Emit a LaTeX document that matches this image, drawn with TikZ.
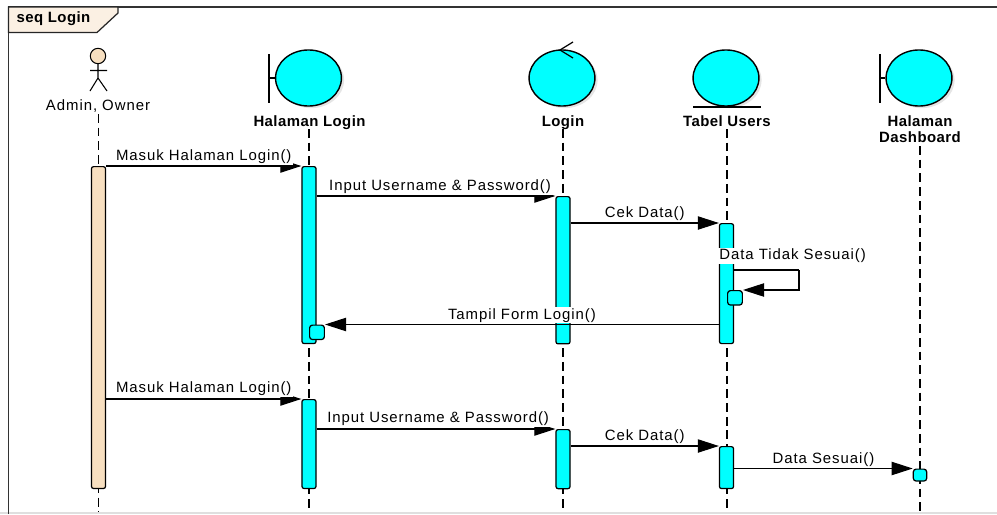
\documentclass[tikz,border=0pt]{standalone}
\usepackage{fontspec}
\setmainfont[LetterSpace=6.3]{Liberation Sans}
\newfontface\namefont[LetterSpace=3]{Liberation Sans Bold}
\usetikzlibrary{arrows.meta,shadows,shapes.geometric}

\definecolor{barcyan}{RGB}{0,255,255}
\definecolor{barwheat}{RGB}{247,223,192}
\definecolor{framecream}{RGB}{251,240,227}

\tikzset{
	obj/.style={ellipse,draw=black,fill=barcyan,line width=0.8pt,minimum width=37.5pt,minimum height=31.9pt,inner sep=0pt,drop shadow={opacity=0.2,shadow xshift=1.5pt,shadow yshift=-1.2pt}},
	objname/.style={font=\fontsize{8.5}{9.2}\selectfont\namefont,align=center,inner sep=0pt},
	life/.style={line width=0.7pt,dash pattern=on 5pt off 2.8pt},
	bar/.style={draw=black,fill=barcyan,rounded corners=1.2pt,line width=0.7pt,inner sep=0pt,minimum width=8pt,anchor=north},
	selfbar/.style={draw=black,fill=barcyan,rounded corners=1.6pt,line width=0.7pt,inner sep=0pt,minimum width=8.4pt,minimum height=8.2pt,anchor=north west},
	msg/.style={line width=0.6pt,-{Triangle[length=12pt,width=7.6pt]}},
	msgname/.style={font=\fontsize{8.5}{10}\selectfont,fill=white,inner sep=0.6pt,above=0.4pt},
}

\begin{document}
\begin{tikzpicture}[x=0.02cm,y=-0.02cm]
	\useasboundingbox (0,0) rectangle (997,514);
	\fill[white] (0,0) rectangle (997,514);
	\draw[gray!25,line width=0.6pt] (0,513) -- (997,513);

	% frame
	\draw[black!80,line width=1pt] (8.5,514) -- (8.5,7) -- (997,7);
	\draw[black!85,fill=framecream,line width=0.7pt] (8.5,7) -- (118,7) -- (118,13) -- (97,32.5) -- (8.5,32.5) -- cycle;
	\node[objname] (frameName) at (53.5,19) {seq Login};

	% actor
	\draw[black,fill=barwheat,line width=0.6pt] (98,56) circle (7.7);
	\draw[black,line width=0.6pt] (98,64) -- (98,78) (90,70.5) -- (107,70.5) (90,91) -- (98,78) -- (107,91);
	\node[font=\fontsize{8.5}{10}\selectfont,inner sep=0pt,anchor=base] (adminName) at (98,110) {Admin, Owner};

	% objects
	\node[obj] (halLogin) at (308.5,78) {};
	\node[obj] (login) at (562,78) {};
	\node[obj] (tabel) at (726,78) {};
	\node[obj] (halDash) at (919,78) {};
	\draw[black,line width=0.7pt] (269,54) -- (269,103) (269,78) -- (halLogin.west);
	\draw[black,line width=0.7pt] (880,54) -- (880,103) (880,78) -- (halDash.west);
	\draw[black,line width=0.7pt] (573,42) -- (560,50) -- (573,58);
	\draw[black,line width=0.7pt] (693,107) -- (761,107);
	\node[objname,anchor=base] (halLoginName) at (309.5,126) {Halaman Login};
	\node[objname,anchor=base] (loginName) at (563,126) {Login};
	\node[objname,anchor=base] (tabelName) at (727,126) {Tabel Users};
	\node[objname,anchor=north] (halDashName) at (920,115.5) {Halaman\\Dashboard};

	% lifelines
	\draw[life] (98.5,114) -- (98.5,512);
	\draw[life] (309,129) -- (309,512);
	\draw[life] (563,129) -- (563,512);
	\draw[life] (727,129) -- (727,512);
	\draw[life] (920,146) -- (920,512);

	% activations
	\node[bar,fill=barwheat,minimum height=183.2pt] (adminBar) at (98.5,166) {};
	\node[bar,minimum height=100.7pt] (halBarA) at (309,166) {};
	\node[bar,minimum height=83.8pt] (logBarA) at (563,196) {};
	\node[bar,minimum height=68.3pt] (tabBarA) at (726.5,223) {};
	\node[bar,minimum height=50.6pt] (halBarB) at (309,399) {};
	\node[bar,minimum height=33.6pt] (logBarB) at (563,429) {};
	\node[bar,minimum height=23.9pt] (tabBarB) at (726.5,446) {};
	\node[selfbar] (selfTab) at (727,290) {};
	\node[selfbar] (selfHal) at (309,324.5) {};
	\node[selfbar,minimum width=7.6pt,minimum height=6.8pt,anchor=north] (selfDash) at (920,468.5) {};

	% messages
	\draw[msg] (adminBar.north east) -- node[msgname] {Masuk Halaman Login()} (halBarA.north west);
	\draw[msg] (halBarA.east |- logBarA.north) -- node[msgname,xshift=2.3pt] {Input Username \& Password()} (logBarA.north west);
	\draw[msg] (logBarA.east |- tabBarA.north) -- node[msgname] {Cek Data()} (tabBarA.north west);
	\draw[msg] (tabBarA.west |- selfHal.north) -- node[msgname] {Tampil Form Login()} (selfHal.north east);
	\coordinate (selfOut) at (799,270);
	\draw[line width=0.6pt] (tabBarA.east |- selfOut) -- (selfOut);
	\draw[msg] (selfOut) -- (selfOut |- selfTab.north) -- (selfTab.north east);
	\node[font=\fontsize{8.5}{10}\selectfont,fill=white,inner sep=0.6pt,anchor=west] (selfName) at (718,256) {Data Tidak Sesuai()};

	\draw[msg] (adminBar.east |- halBarB.north) -- node[msgname,yshift=0.4pt] {Masuk Halaman Login()} (halBarB.north west);
	\draw[msg] (halBarB.east |- logBarB.north) -- node[msgname,xshift=1.2pt,yshift=0.4pt] {Input Username \& Password()} (logBarB.north west);
	\draw[msg] (logBarB.east |- tabBarB.north) -- node[msgname] {Cek Data()} (tabBarB.north west);
	\draw[msg] (tabBarB.east |- selfDash.north) -- node[msgname] {Data Sesuai()} (selfDash.north west);
\end{tikzpicture}
\end{document}
